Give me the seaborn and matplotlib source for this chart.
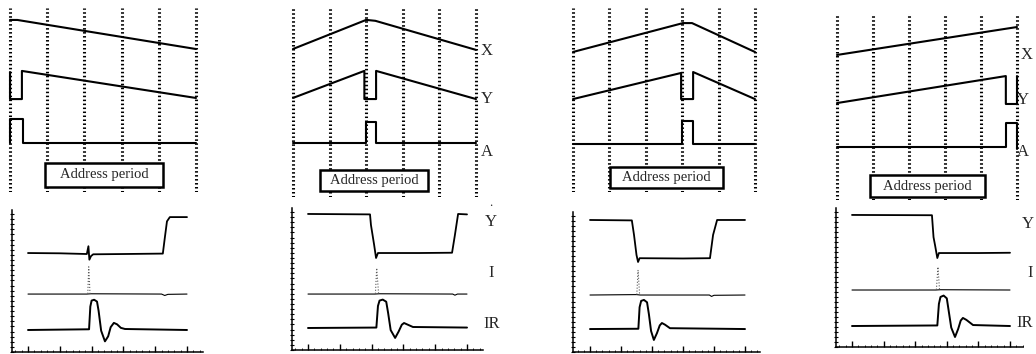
import matplotlib
matplotlib.use("Agg")
import matplotlib.pyplot as plt
from matplotlib.patches import Rectangle
from matplotlib.ticker import MultipleLocator, NullFormatter
import seaborn as sns

# ---------------- data (one entry per panel) ----------------
# top section: time in grid divisions (0..5), level in arbitrary units (0..10)
x_t = [[0, 0.2, 5], [0, 2.0, 2.25, 5], [0, 3.02, 3.27, 5], [0, 5]]
x_v = [[9.35, 9.35, 7.77], [7.77, 9.35, 9.3, 7.72], [7.61, 9.18, 9.18, 7.61], [7.84, 9.35]]

y_t = [[0, 0, 0.32, 0.32, 5], [0, 1.95, 1.95, 2.27, 2.27, 5],
       [0, 2.97, 2.97, 3.3, 3.3, 5], [0, 4.69, 4.69, 5, 5]]
y_v = [[6.52, 5.05, 5.05, 6.58, 5.11], [5.11, 6.58, 5.05, 5.05, 6.58, 5.05],
       [5.05, 6.47, 5.05, 5.05, 6.52, 5.05], [5.24, 6.7, 5.19, 5.19, 6.7]]

a_t = [[0, 0, 0.35, 0.35, 5], [0, 2.0, 2.0, 2.27, 2.27, 5],
       [0, 3.0, 3.0, 3.3, 3.3, 5], [0, 4.69, 4.69, 5, 5]]
a_v = [[2.66, 3.97, 3.97, 2.66, 2.66], [2.66, 2.66, 3.8, 3.8, 2.66, 2.66],
       [2.61, 2.61, 3.86, 3.86, 2.61, 2.61], [2.86, 2.86, 4.16, 4.16, 2.75]]

# bottom section: measured Y voltage, current I and IR emission
ym_t = [[0, 1.0, 1.85, 1.9, 1.93, 1.98, 2.05, 3.0, 4.24, 4.3, 4.37, 4.46, 5.0],
        [0, 1.95, 1.98, 2.08, 2.14, 2.2, 3.5, 4.53, 4.62, 4.72, 5.0],
        [0, 1.35, 1.42, 1.5, 1.55, 1.6, 3.0, 3.87, 3.97, 4.1, 5.0],
        [0, 2.53, 2.58, 2.63, 2.7, 2.75, 4.0, 5.0]]
ym_v = [[6.97, 6.95, 6.9, 7.45, 6.5, 6.75, 6.88, 6.9, 6.93, 8.0, 9.2, 9.5, 9.5],
        [9.58, 9.55, 8.8, 7.4, 6.48, 6.83, 6.83, 6.85, 8.1, 9.58, 9.55],
        [9.43, 9.4, 8.36, 6.93, 6.43, 6.7, 6.68, 6.7, 8.36, 9.43, 9.43],
        [9.5, 9.48, 7.9, 7.3, 6.4, 6.76, 6.76, 6.78]]

i_t = [[0, 1.85, 1.98, 4.2, 4.3, 4.4, 5.0],
       [0, 2.1, 2.25, 4.55, 4.62, 4.7, 5.0],
       [0, 1.5, 1.62, 3.85, 3.92, 4.0, 5.0],
       [0, 2.65, 2.8, 5.0]]
i_v = [[4.08, 4.08, 4.1, 4.08, 3.98, 4.06, 4.08],
       [3.94, 3.94, 3.96, 3.94, 3.86, 3.94, 3.94],
       [4.07, 4.1, 4.07, 4.07, 3.97, 4.05, 4.07],
       [4.1, 4.1, 4.12, 4.1]]
spike_t = [[1.88, 1.91, 1.95], [2.12, 2.16, 2.22], [1.51, 1.55, 1.6], [2.67, 2.72, 2.77]]
spike_v = [[4.1, 6.0, 4.1], [3.96, 5.77, 3.96], [4.1, 5.86, 4.1], [4.12, 5.76, 4.12]]

ir_t = [[0, 1.92, 1.96, 2.0, 2.08, 2.17, 2.22, 2.3, 2.42, 2.52, 2.6, 2.7, 2.8, 2.92, 3.05, 5.0],
        [0, 2.15, 2.2, 2.25, 2.35, 2.46, 2.52, 2.6, 2.74, 2.85, 2.95, 3.02, 3.12, 3.3, 5.0],
        [0, 1.56, 1.6, 1.65, 1.74, 1.84, 1.9, 1.97, 2.06, 2.16, 2.25, 2.32, 2.42, 2.58, 5.0],
        [0, 2.7, 2.75, 2.8, 2.9, 3.0, 3.06, 3.14, 3.26, 3.36, 3.44, 3.51, 3.62, 3.83, 5.0]]
ir_v = [[1.55, 1.6, 3.2, 3.62, 3.68, 3.55, 2.9, 1.5, 0.75, 1.1, 1.75, 2.05, 1.95, 1.7, 1.62, 1.55],
        [1.55, 1.58, 3.1, 3.48, 3.55, 3.4, 2.6, 1.4, 0.85, 1.3, 1.78, 1.9, 1.8, 1.62, 1.58],
        [1.64, 1.66, 3.2, 3.65, 3.72, 3.55, 2.7, 1.5, 0.86, 1.35, 1.9, 2.07, 1.95, 1.7, 1.64],
        [1.51, 1.55, 3.1, 3.6, 3.7, 3.5, 2.6, 1.4, 0.72, 1.3, 1.9, 2.09, 1.95, 1.58, 1.51]]

box_text = "Address period"
top_labels = ["X", "Y", "A"]
bottom_labels = ["Y", "I", "IR"]

# ---------------- layout (pixels in the 1036x354 picture) ----------------
W, H = 1036, 354
# top area: left/right = first/last dotted line, top/bottom of dotted lines, ylim
top_px = [(10, 196, 8, 192, (0, 10)), (293, 476, 7, 197, (-0.27, 10.05)),
          (573, 755, 8, 192, (0, 10)), (837, 1017, 15, 200, (0, 10))]
# bottom area: axis rect, px of t=0 and px per unit
bot_px = [(12, 203, 210, 352, 28, 31.8), (292, 483, 208, 350, 308, 31.8),
          (573, 760, 212, 352, 590, 31.0), (836, 1023, 208, 347, 852, 31.6)]
boxes = [(0.94, 4.11, 0.27, 1.58), (0.74, 3.69, 0.05, 1.2),
         (1.02, 4.12, 0.22, 1.36), (0.92, 4.11, 0.16, 1.35)]
top_lab_pos = {1: [(5.3, 7.66), (5.3, 5.05), (5.3, 2.17)],
               3: [(5.28, 7.84), (5.17, 5.4), (5.17, 2.6)]}
bot_lab_pos = {1: [(5.75, 9.0), (5.75, 5.42), (5.79, 1.83)],
               3: [(5.57, 8.85), (5.63, 5.32), (5.2, 1.73)]}

sns.set_theme(style="white")
plt.rcParams["font.family"] = ["Liberation Serif", "DejaVu Serif"]

fig = plt.figure(figsize=(W / 100, H / 100), dpi=100)


def add_px_axes(left, right, top, bottom):
    return fig.add_axes([left / W, 1 - bottom / H, (right - left) / W, (bottom - top) / H])


for p in range(4):
    # ---- top: drive waveforms with dotted grid ----
    l, r, t, b, ylim = top_px[p]
    s = (r - l) / 5
    m = 4
    ax = add_px_axes(l - m, r + m, t, b)
    ax.set_xlim(-m / s, 5 + m / s)
    ax.set_ylim(*ylim)
    for tt, vv in [(x_t[p], x_v[p]), (y_t[p], y_v[p]), (a_t[p], a_v[p])]:
        sns.lineplot(x=tt, y=vv, sort=False, estimator=None, ax=ax, color="black", lw=1.5)
    ax.set_xticks(range(6))
    ax.set_yticks([])
    ax.grid(axis="x", color="black", lw=2.2, ls=(0, (0.5, 0.8)))
    ax.tick_params(length=0, labelbottom=False)
    for sp in ax.spines.values():
        sp.set_visible(False)
    bx0, bx1, by0, by1 = boxes[p]
    ax.add_patch(Rectangle((bx0, by0), bx1 - bx0, by1 - by0, fill=True, fc="white",
                           ec="black", lw=1.8, zorder=3, clip_on=False))
    ax.text((bx0 + bx1) / 2, (by0 + by1) / 2, box_text, ha="center", va="center",
            fontsize=10.5, zorder=4)
    if p in top_lab_pos:
        for lab, (lx, ly) in zip(top_labels, top_lab_pos[p]):
            ax.text(lx, ly, lab, ha="center", va="center", fontsize=12)
    for ln in ax.lines:
        ln.set_clip_on(False)

    # ---- bottom: measured response ----
    l, r, t, b, x0, sc = bot_px[p]
    bx = add_px_axes(l, r, t, b)
    bx.set_xlim((l - x0) / sc, (r - x0) / sc)
    bx.set_ylim(0, 10)
    sns.lineplot(x=ym_t[p], y=ym_v[p], sort=False, estimator=None, ax=bx, color="black", lw=1.3)
    sns.lineplot(x=i_t[p], y=i_v[p], sort=False, estimator=None, ax=bx, color="black", lw=0.8)
    sns.lineplot(x=spike_t[p], y=spike_v[p], sort=False, estimator=None, ax=bx,
                 color="0.35", lw=0.8, ls=":")
    sns.lineplot(x=ir_t[p], y=ir_v[p], sort=False, estimator=None, ax=bx, color="black", lw=1.4)
    for sp in ["top", "right"]:
        bx.spines[sp].set_visible(False)
    for sp in ["left", "bottom"]:
        bx.spines[sp].set_color("black")
        bx.spines[sp].set_linewidth(1.1)
    bx.xaxis.set_major_locator(MultipleLocator(1))
    bx.xaxis.set_minor_locator(MultipleLocator(0.2))
    bx.yaxis.set_major_locator(MultipleLocator(0.36))
    bx.xaxis.set_major_formatter(NullFormatter())
    bx.yaxis.set_major_formatter(NullFormatter())
    bx.tick_params(axis="x", which="major", direction="in", length=4, width=1, color="black",
                   bottom=True)
    bx.tick_params(axis="x", which="minor", direction="in", length=1.5, width=0.6, color="black",
                   bottom=True)
    bx.tick_params(axis="y", which="major", direction="inout", length=3, width=0.8, color="black",
                   left=True)
    if p in bot_lab_pos:
        for lab, (lx, ly) in zip(bottom_labels, bot_lab_pos[p]):
            ha = "left" if (p == 3 and lab == "IR") else "center"
            bx.text(lx, ly, lab, ha=ha, va="center", fontsize=12, clip_on=False)
        if p == 1:
            bx.text(bot_lab_pos[p][0][0], 9.9, ".", ha="center", va="bottom", fontsize=9)

fig.savefig("out.png", dpi=100)
